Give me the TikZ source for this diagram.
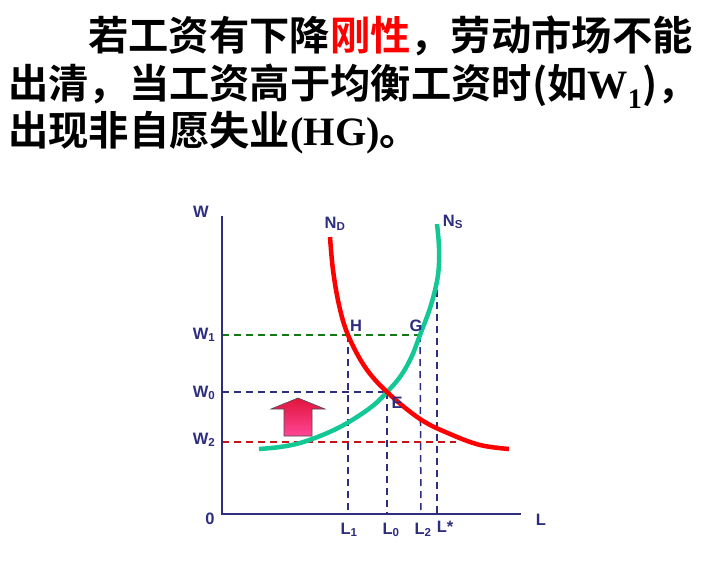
\documentclass[tikz,border=0pt]{standalone}
\usepackage{fontspec}
\setmainfont{Liberation Serif}
\setsansfont{Liberation Sans}
\newfontfamily\cjk{Noto Sans CJK SC}[BoldFont={* Bold}]
\definecolor{navy}{RGB}{46,46,128}
\definecolor{dgreen}{RGB}{20,120,20}
\definecolor{teal}{RGB}{20,200,150}
\definecolor{dred}{RGB}{200,20,20}
\tikzset{
  title/.style={anchor=base west,inner sep=0pt,font=\cjk\bfseries\fontsize{40.3}{40}\selectfont},
  lab/.style={inner sep=0pt,text=navy,font=\sffamily\bfseries\fontsize{16.5}{16.5}\selectfont},
  axis/.style={navy,line width=2.6pt},
  guide/.style={line width=1.5pt,dash pattern=on 7pt off 5pt},
}
\begin{document}
\begin{tikzpicture}[x=1pt,y=-1pt]
\useasboundingbox (0,0) rectangle (720,562);
\fill[white] (0,0) rectangle (720,562);
% title
\node[title] (t1) at (88,50) {若工资有下降\textcolor{red}{刚性}，劳动市场不能};
\node[title] (t2) at (8,98) {出清，当工资高于均衡工资时(如{\rmfamily\bfseries W\textsubscript{1}})，};
\node[title] (t3) at (8,145) {出现非自愿失业{\rmfamily\bfseries (HG)}。};
% key points
\coordinate (O) at (222,514);
\coordinate (Ytop) at (222,216);
\coordinate (Xend) at (521,514);
\coordinate (H) at (348,335);
\coordinate (G) at (420,335);
\coordinate (E) at (387,392);
\coordinate (W1a) at (222,335);
\coordinate (W0a) at (222,392);
\coordinate (W2a) at (222,442);
\coordinate (W2b) at (456,442);
\coordinate (L1a) at (348,514);
\coordinate (L0a) at (387,514);
\coordinate (L2a) at (421,514);
\coordinate (Lsa) at (437,514);
\coordinate (Lsb) at (437,290);
% guides
\draw[guide,dgreen] (W1a) -- (G);
\draw[guide,navy] (W0a) -- (E);
\draw[guide,dred] (W2a) -- (W2b);
\draw[guide,navy] (H) -- (L1a);
\draw[guide,navy] (E) -- (L0a);
\draw[guide,navy] (G) -- (L2a);
\draw[guide,navy] (Lsb) -- (Lsa);
% curves
\draw[teal,line width=4.5pt] plot[smooth,tension=0.6] coordinates {(259,449) (280,447) (300,443) (320,436) (340,427) (360,415) (375,404) (387,392) (400,377) (411,358) (420,335) (431,305) (438,275) (439,248) (437,224)};
\draw[red,line width=4.5pt] plot[smooth,tension=0.6] coordinates {(330,237) (333,270) (339,305) (348,335) (365,367) (387,392) (420,419) (450,434) (480,445) (509,449)};
% axes
\draw[axis] (Ytop) -- (O) -- (Xend);
% arrow
\coordinate (arr) at (298,398);
\draw[draw=black!70,line width=0.6pt,
  top color={rgb,255:red,225;green,20;blue,60},bottom color={rgb,255:red,255;green,70;blue,150}]
  (arr) -- (325,409) -- (312,409) -- (312,436) -- (284,436) -- (284,409) -- (271,409) -- cycle;
% labels
\node[lab] (lW) at (201,212) {W};
\node[lab] (lW1) at (204,335) {W\textsubscript{1}};
\node[lab] (lW0) at (204,393) {W\textsubscript{0}};
\node[lab] (lW2) at (204,440) {W\textsubscript{2}};
\node[lab] (l0) at (210,519) {0};
\node[lab] (lL) at (541,520) {L};
\node[lab] (lL1) at (349,530) {L\textsubscript{1}};
\node[lab] (lL0) at (391,530) {L\textsubscript{0}};
\node[lab] (lL2) at (423,530) {L\textsubscript{2}};
\node[lab] (lLs) at (445,527) {L*};
\node[lab] (lH) at (356,326) {H};
\node[lab] (lG) at (416,326) {G};
\node[lab] (lE) at (397,403) {E};
\node[lab] (lND) at (335,224) {N\textsubscript{D}};
\node[lab] (lNS) at (453,222) {N\textsubscript{S}};
\end{tikzpicture}
\end{document}
